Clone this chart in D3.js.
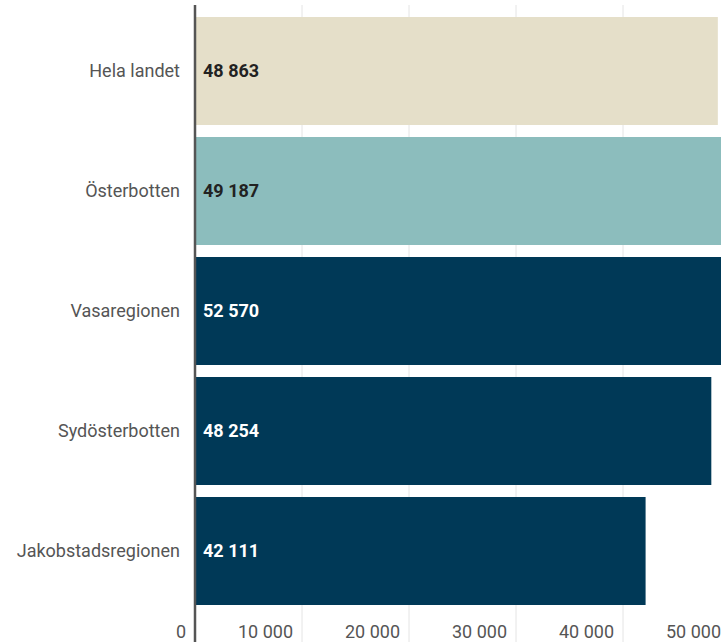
<!DOCTYPE html>
<html>
<head>
<meta charset="utf-8">
<script src="https://cdn.jsdelivr.net/npm/d3@7"></script>
<style>
  body { margin: 0; background: #fff; }
  svg { display: block; font-family: Roboto, sans-serif; }
</style>
</head>
<body>
<script>
let w = 721;
let h = 642;

let categories = ['Hela landet', 'Österbotten', 'Vasaregionen', 'Sydösterbotten', 'Jakobstadsregionen'];
let values = [48863, 49187, 52570, 48254, 42111];
let colors = ['#e5dfc9', '#8cbdbd', '#003957', '#003957', '#003957'];
let labelColors = ['#222', '#222', '#fff', '#fff', '#fff'];
let ticks = [0, 10000, 20000, 30000, 40000, 50000];

let fmt = (v) => d3.format(',')(v).replace(/,/g, ' ');

let xScale = d3.scaleLinear()
  .domain([0, 50000])
  .range([195, 730]);

let yScale = d3.scaleBand()
  .domain(categories)
  .range([11, 611])
  .paddingInner(0.1)
  .paddingOuter(0.05);

let svg = d3.select('body')
  .append('svg')
  .attr('width', w)
  .attr('height', h);

// gridlines
svg.append('g')
  .selectAll('line')
  .data(ticks.slice(1))
  .enter()
  .append('line')
  .attr('x1', (d) => xScale(d))
  .attr('x2', (d) => xScale(d))
  .attr('y1', 5)
  .attr('y2', h)
  .attr('stroke', '#e4e4e4')
  .attr('stroke-width', 1);

// bars
svg.append('g')
  .selectAll('rect')
  .data(values)
  .enter()
  .append('rect')
  .attr('x', xScale(0))
  .attr('y', (d, i) => yScale(categories[i]))
  .attr('width', (d) => xScale(d) - xScale(0))
  .attr('height', yScale.bandwidth())
  .attr('fill', (d, i) => colors[i]);

// value labels
svg.append('g')
  .selectAll('text')
  .data(values)
  .enter()
  .append('text')
  .attr('x', xScale(0) + 8)
  .attr('y', (d, i) => yScale(categories[i]) + yScale.bandwidth() / 2)
  .attr('dy', '0.35em')
  .attr('font-size', 18)
  .attr('font-weight', 'bold')
  .attr('fill', (d, i) => labelColors[i])
  .text((d) => fmt(d));

// category labels
svg.append('g')
  .selectAll('text')
  .data(categories)
  .enter()
  .append('text')
  .attr('x', 180)
  .attr('y', (d) => yScale(d) + yScale.bandwidth() / 2)
  .attr('dy', '0.35em')
  .attr('text-anchor', 'end')
  .attr('font-size', 18)
  .attr('fill', '#555')
  .text((d) => d);

// x tick labels
svg.append('g')
  .selectAll('text')
  .data(ticks)
  .enter()
  .append('text')
  .attr('x', (d) => Math.min(xScale(d) - 9, 721))
  .attr('y', 638)
  .attr('text-anchor', 'end')
  .attr('font-size', 18)
  .attr('fill', '#555')
  .text((d) => fmt(d));

// axis line
svg.append('line')
  .attr('x1', xScale(0))
  .attr('x2', xScale(0))
  .attr('y1', 5)
  .attr('y2', h)
  .attr('stroke', '#555')
  .attr('stroke-width', 2.5);
</script>
</body>
</html>
